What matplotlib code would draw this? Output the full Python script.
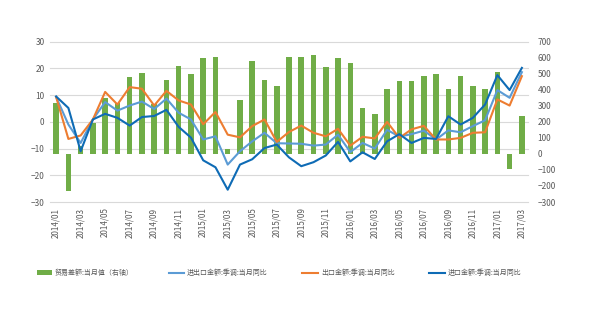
import matplotlib
matplotlib.use("Agg")
import matplotlib.pyplot as plt
from matplotlib.transforms import blended_transform_factory
from matplotlib.patches import Patch
from matplotlib.lines import Line2D

plt.rcParams['font.family'] = ['Noto Sans CJK SC', 'DejaVu Sans']

months = ["2014/01", "2014/02", "2014/03", "2014/04", "2014/05", "2014/06", "2014/07", "2014/08",
          "2014/09", "2014/10", "2014/11", "2014/12", "2015/01", "2015/02", "2015/03", "2015/04",
          "2015/05", "2015/06", "2015/07", "2015/08", "2015/09", "2015/10", "2015/11", "2015/12",
          "2016/01", "2016/02", "2016/03", "2016/04", "2016/05", "2016/06", "2016/07", "2016/08",
          "2016/09", "2016/10", "2016/11", "2016/12", "2017/01", "2017/02", "2017/03"]

trade_balance = [320, -229, 50, 190, 350, 315, 479, 505, 310, 460, 550, 498, 598, 606, 31, 337,
                 580, 458, 425, 602, 603, 618, 543, 600, 570, 285, 250, 402, 452, 456, 485, 500,
                 405, 483, 425, 404, 510, -96, 237]

total_yoy = [9.3, -1.0, -7.9, 0.9, 7.4, 4.2, 6.1, 7.6, 4.8, 8.7, 3.4, 0.9, -6.6, -5.4, -16.0, -11.0,
             -7.3, -4.1, -8.0, -8.1, -8.2, -8.9, -8.5, -4.8, -11.3, -7.9, -10.0, -3.0, -5.5, -4.6,
             -3.3, -6.6, -3.2, -3.9, -1.6, 0.6, 11.9, 9.0, 18.6]

export_yoy = [9.3, -6.4, -5.1, 0.9, 11.2, 6.5, 13.0, 12.4, 6.1, 11.6, 8.0, 6.5, -0.9, 3.7, -4.8, -5.8,
              -1.6, 0.9, -7.5, -3.8, -1.4, -4.1, -5.4, -2.6, -8.9, -5.6, -6.2, 0.0, -6.0, -2.8,
              -1.5, -6.6, -6.6, -6.0, -4.1, -3.9, 8.4, 6.1, 17.1]

import_yoy = [9.5, 5.2, -11.0, 0.9, 3.0, 1.5, -1.4, 1.8, 2.2, 4.5, -1.9, -5.9, -14.4, -17.0, -25.4, -16.0,
              -14.0, -9.8, -8.5, -13.3, -16.6, -15.1, -12.6, -7.5, -14.8, -11.4, -13.9, -7.3, -4.6, -7.9,
              -6.0, -6.4, 2.1, -1.0, 1.5, 6.5, 17.5, 11.9, 20.2]

legend_labels = ["贸易差额:当月值（右轴）", "进出口金额:季调:当月同比", "出口金额:季调:当月同比", "进口金额:季调:当月同比"]

c_green = "#70AD47"
c_lblue = "#5B9BD5"
c_orange = "#ED7D31"
c_dblue = "#0E6BB5"
c_text = "#595959"

fig = plt.figure(figsize=(6, 3.3), dpi=100)
ax = fig.add_axes([50/600, 1-202/330, 478/600, 160.3/330])
ax2 = ax.twinx()

x = list(range(len(months)))

# bars on right axis, drawn behind
ax2.bar(x, trade_balance, width=0.45, color=c_green, zorder=2)
ax2.set_ylim(-300, 700)
ax2.set_yticks(range(-300, 701, 100))

# lines on left axis, on top
ax.set_zorder(ax2.get_zorder() + 1)
ax.patch.set_visible(False)
ax.plot(x, total_yoy, color=c_lblue, lw=1.5, zorder=3)
ax.plot(x, export_yoy, color=c_orange, lw=1.5, zorder=3)
ax.plot(x, import_yoy, color=c_dblue, lw=1.5, zorder=4)
ax.set_ylim(-30, 30)
ax.set_yticks(range(-30, 31, 10))
ax.set_xlim(-0.5, len(months) - 0.5)

# gridlines at left-axis ticks, drawn behind bars
tr = blended_transform_factory(ax2.transAxes, ax.transData)
for t in ax.get_yticks():
    ax2.plot([0, 1], [t, t], transform=tr, color="#D9D9D9", lw=0.8, zorder=0, clip_on=False)

ax.set_xticks(x[::2])
ax.set_xticklabels(months[::2], rotation=90, fontsize=5.8, color=c_text)

for a in (ax, ax2):
    for s in a.spines.values():
        s.set_visible(False)
    a.tick_params(length=0, labelsize=6, labelcolor=c_text)
ax.tick_params(axis='x', labelsize=5.8)
ax.tick_params(axis='y', pad=4)
ax.tick_params(axis='x', pad=4)
ax2.tick_params(axis='y', pad=7)

handles = [Patch(facecolor=c_green, edgecolor='none'),
           Line2D([], [], color=c_lblue, lw=1.5),
           Line2D([], [], color=c_orange, lw=1.5),
           Line2D([], [], color=c_dblue, lw=1.5)]
fig.legend(handles, legend_labels, loc='center', bbox_to_anchor=(0.465, 1-273/330), ncol=4,
           frameon=False, fontsize=5, handlelength=2.2, handleheight=0.7, handletextpad=0.45,
           columnspacing=5.0, labelcolor=c_text)

fig.savefig("out.png", dpi=100, facecolor="white")
